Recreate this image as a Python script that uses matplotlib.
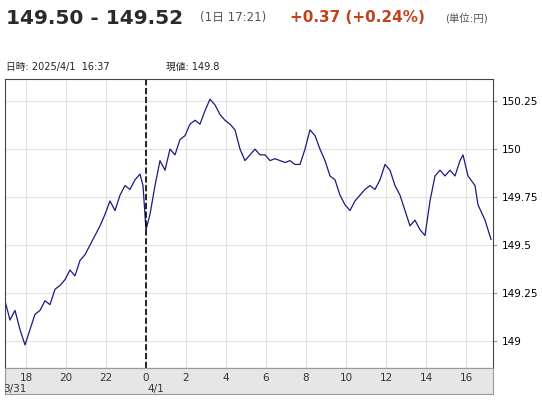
import matplotlib.pyplot as plt
import numpy as np

plt.rcParams['font.family'] = ['DejaVu Sans', 'Noto Sans CJK JP']

# hours relative to 4/1 00:00
hours = [-7.05, -6.8, -6.55, -6.3, -6.05, -5.8, -5.55, -5.3, -5.05, -4.8, -4.55, -4.3,
         -4.05, -3.8, -3.55, -3.3, -3.05, -2.8, -2.55, -2.3, -2.05, -1.8, -1.55, -1.3,
         -1.05, -0.8, -0.55, -0.3, -0.15, 0.0, 0.2, 0.45, 0.7, 0.95, 1.2, 1.45, 1.7,
         1.95, 2.2, 2.45, 2.7, 2.95, 3.2, 3.45, 3.7, 3.95, 4.2, 4.45, 4.7, 4.95, 5.2,
         5.45, 5.7, 5.95, 6.2, 6.45, 6.7, 6.95, 7.2, 7.45, 7.7, 7.95, 8.2, 8.45, 8.7,
         8.95, 9.2, 9.45, 9.7, 9.95, 10.2, 10.45, 10.7, 10.95, 11.2, 11.45, 11.7,
         11.95, 12.2, 12.45, 12.7, 12.95, 13.2, 13.45, 13.7, 13.95, 14.2, 14.45, 14.7,
         14.95, 15.2, 15.45, 15.7, 15.85, 16.1, 16.45, 16.6, 16.95, 17.25]
prices = [149.21, 149.11, 149.16, 149.06, 148.98, 149.06, 149.14, 149.16, 149.21, 149.19,
          149.27, 149.29, 149.32, 149.37, 149.34, 149.42, 149.45, 149.50, 149.55, 149.60,
          149.66, 149.73, 149.68, 149.76, 149.81, 149.79, 149.84, 149.87, 149.81, 149.58,
          149.66, 149.81, 149.94, 149.89, 150.00, 149.97, 150.05, 150.07, 150.13, 150.15,
          150.13, 150.20, 150.26, 150.23, 150.18, 150.15, 150.13, 150.10, 150.00, 149.94,
          149.97, 150.00, 149.97, 149.97, 149.94, 149.95, 149.94, 149.93, 149.94, 149.92,
          149.92, 150.00, 150.10, 150.07, 150.00, 149.94, 149.86, 149.84, 149.76, 149.71,
          149.68, 149.73, 149.76, 149.79, 149.81, 149.79, 149.84, 149.92, 149.89, 149.81,
          149.76, 149.68, 149.60, 149.63, 149.58, 149.55, 149.73, 149.86, 149.89, 149.86,
          149.89, 149.86, 149.94, 149.97, 149.86, 149.81, 149.71, 149.63, 149.53]

xticks = [-6, -4, -2, 0, 2, 4, 6, 8, 10, 12, 14, 16]
xlabels = ['18', '20', '22', '0', '2', '4', '6', '8', '10', '12', '14', '16']
yticks = [149.0, 149.25, 149.5, 149.75, 150.0, 150.25]
ylabels = ['149', '149.25', '149.5', '149.75', '150', '150.25']

fig = plt.figure(figsize=(5.42, 4.0), dpi=100)
ax = fig.add_axes([5 / 542, 32 / 400, 488 / 542, 289 / 400])
ax.plot(hours, prices, color='#1a1a80', lw=0.9)
ax.axvline(0, color='black', ls='--', lw=1.2)
ax.set_xlim(-7.05, 17.35)
ax.set_ylim(148.86, 150.365)
ax.set_xticks(xticks)
ax.set_xticklabels([])
ax.set_yticks(yticks)
ax.set_yticklabels(ylabels, fontsize=7.5)
ax.yaxis.tick_right()
ax.tick_params(axis='y', length=3, color='#999999', pad=3)
ax.tick_params(axis='x', length=0)
ax.grid(color='#e3e3e3', lw=0.8)
for s in ax.spines.values():
    s.set_color('#444444')

# gray time strip under the plot
strip = fig.add_axes([5 / 542, 6 / 400, 488 / 542, 26 / 400])
strip.set_facecolor('#e6e6e6')
strip.set_xlim(ax.get_xlim())
strip.set_ylim(0, 1)
strip.set_xticks([])
strip.set_yticks([])
for s in strip.spines.values():
    s.set_color('#999999')
for t, lab in zip(xticks, xlabels):
    strip.text(t, 0.62, lab, ha='center', va='center', fontsize=7.5, color='#333333')
strip.text(-6.55, 0.2, '3/31', ha='center', va='center', fontsize=7.5, color='#333333')
strip.text(0.5, 0.2, '4/1', ha='center', va='center', fontsize=7.5, color='#333333')

fig.text(6 / 542, 1 - 18 / 400, '149.50 - 149.52', fontsize=14.5, fontweight='bold',
         color='#2a2a2a', va='center')
fig.text(200 / 542, 1 - 18 / 400, '(1日 17:21)', fontsize=8.5, color='#555555', va='center')
fig.text(290 / 542, 1 - 18 / 400, '+0.37 (+0.24%)', fontsize=11, fontweight='bold',
         color='#c0421a', va='center')
fig.text(445 / 542, 1 - 18 / 400, '(単位:円)', fontsize=7.5, color='#555555', va='center')
fig.text(6 / 542, 1 - 67 / 400, '日時: 2025/4/1  16:37', fontsize=7, color='#222222', va='center')
fig.text(166 / 542, 1 - 67 / 400, '現値: 149.8', fontsize=7, color='#222222', va='center')

fig.savefig('out.png', dpi=100)
